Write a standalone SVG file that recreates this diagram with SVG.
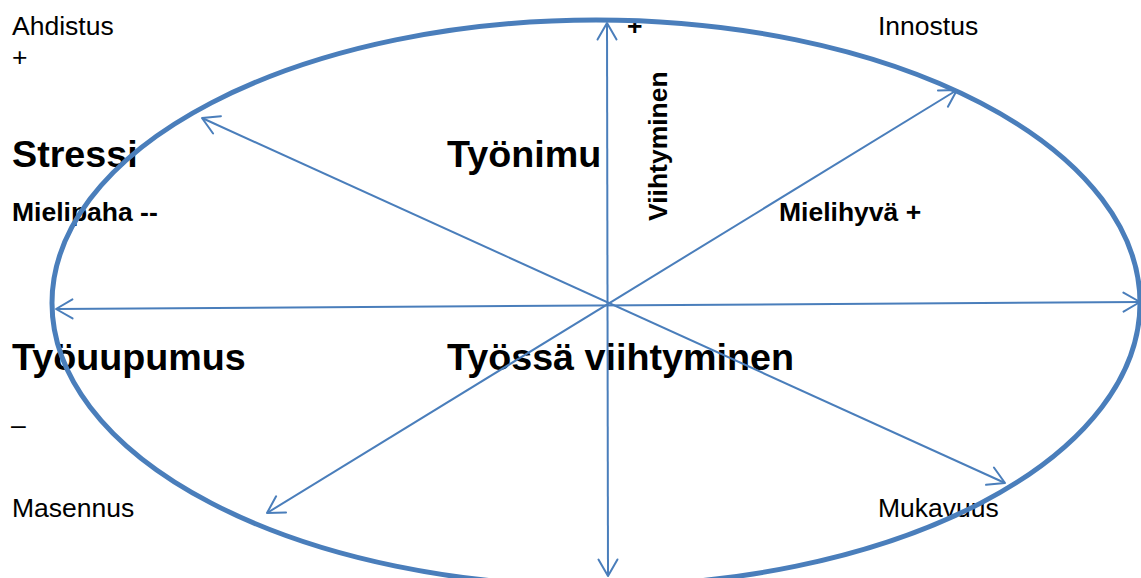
<svg xmlns="http://www.w3.org/2000/svg" width="1141" height="578" viewBox="0 0 1141 578">
  <style>
    .t { font-family: "Liberation Sans", Arial, sans-serif; fill: #000; }
    .r { font-size: 26.5px; }
    .b { font-size: 26.5px; font-weight: bold; }
    .big { font-size: 37.7px; font-weight: bold; }
    .ax { stroke: #4a7ebb; stroke-width: 2; fill: none; marker-start: url(#ah); marker-end: url(#ah); }
    .ring { stroke: #4a7ebb; stroke-width: 5; fill: none; }
  </style>
  <defs>
    <marker id="ah" markerUnits="userSpaceOnUse" viewBox="-20 -12 22 24" refX="0" refY="0" markerWidth="22" markerHeight="24" orient="auto-start-reverse">
      <path d="M-16.5,-9.5 L0,0 L-16.5,9.5" fill="none" stroke="#4a7ebb" stroke-width="2" stroke-linecap="round" stroke-linejoin="round"/>
    </marker>
  </defs>
  <rect width="1141" height="578" fill="#fff"/>

  <g id="ahdistus"><text class="t r" x="12" y="35">Ahdistus</text><text class="t r" x="12" y="66">+</text></g>
  <g id="innostus"><text class="t r" x="878" y="35">Innostus</text></g>
  <g id="plus-top"><text class="t b" x="627" y="35">+</text></g>
  <g id="stressi"><text class="t big" x="12" y="167">Stressi</text></g>
  <g id="tyonimu"><text class="t big" x="447" y="167">Työnimu</text></g>
  <g id="viihtyminen"><text class="t b" transform="translate(667,221) rotate(-90)">Viihtyminen</text></g>
  <g id="mielipaha"><text class="t b" x="12" y="221">Mielipaha --</text></g>
  <g id="mielihyva"><text class="t b" x="779" y="221">Mielihyvä +</text></g>
  <g id="tyouupumus"><text class="t big" x="12" y="370">Työuupumus</text></g>
  <g id="tyossa-viihtyminen"><text class="t big" x="447" y="370">Työssä viihtyminen</text></g>
  <g id="miinus"><text class="t r" x="11" y="434">–</text></g>
  <g id="masennus"><text class="t r" x="12" y="517">Masennus</text></g>
  <g id="mukavuus"><text class="t r" x="878" y="517">Mukavuus</text></g>

  <g id="connectors">
    <line class="ax" x1="607" y1="23" x2="608" y2="576"/>
    <line class="ax" x1="56" y1="309" x2="1140" y2="302"/>
    <line class="ax" x1="202" y1="118" x2="1005" y2="483"/>
    <line class="ax" x1="957" y1="90" x2="267" y2="513"/>
  </g>

  <g id="ellipse">
    <ellipse class="ring" cx="596" cy="303" rx="544" ry="283"/>
  </g>
</svg>
